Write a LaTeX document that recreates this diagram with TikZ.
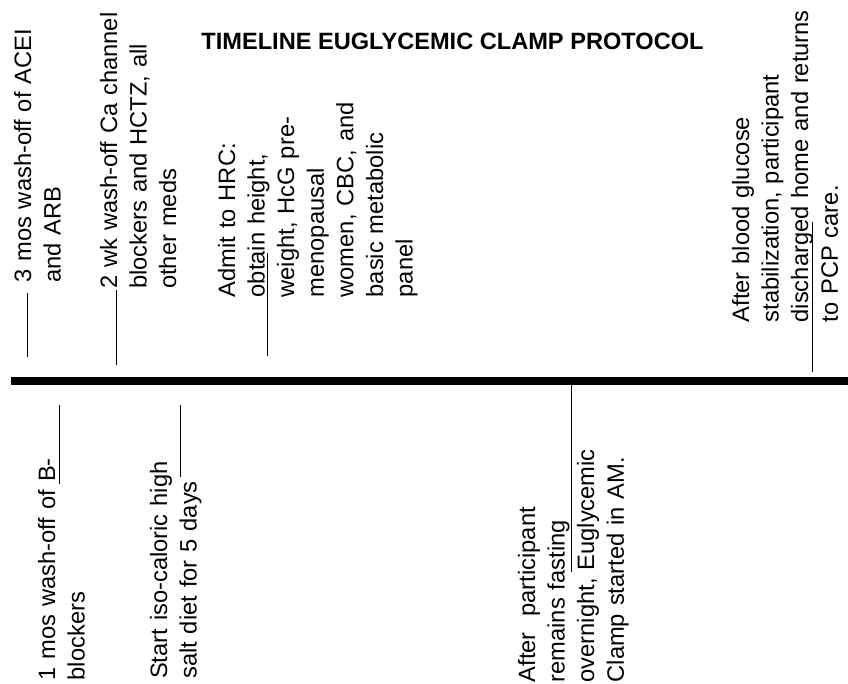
\documentclass[tikz,border=0pt]{standalone}
\usepackage{fontspec}
\setmainfont{Liberation Sans}
\begin{document}
\begin{tikzpicture}[x=1pt,y=-1pt,
  lbl/.style={rotate=90, anchor=base west, inner sep=0pt, text width=420pt, align=left,
              font=\fontsize{23.7}{29.6}\selectfont},
  tick/.style={line width=1pt},
  bar/.style={line width=8pt}]
\useasboundingbox (0,0) rectangle (848,683);
% title
\node[font=\fontsize{23.6}{29}\selectfont\bfseries, anchor=base, inner sep=0pt] (title)
  at (452.5,49) {TIMELINE EUGLYCEMIC CLAMP PROTOCOL};
% time axis
\coordinate (barL) at (11,381);
\coordinate (barR) at (848,381);
\draw[bar] (barL) -- (barR);
% labels above the axis
\node[lbl] (A) at (31,283) {3 mos wash-off of ACEI\\and ARB};
\node[lbl] (B) at (117,289) {2 wk wash-off Ca channel\\blockers and HCTZ, all\\other meds};
\node[lbl] (C) at (235,297.5) {Admit to HRC:\\obtain height,\\weight, HcG pre-\\menopausal\\women, CBC, and\\basic metabolic\\panel};
\node[lbl] (D) at (749,322.5) {After blood glucose\\stabilization, participant\\discharged home and returns\\to PCP care.};
% labels below the axis
\node[lbl] (E) at (55,680.5) {1 mos wash-off of B-\\blockers};
\node[lbl] (F) at (167,679) {Start iso-caloric high\\salt diet for 5 days};
\node[lbl] (G) at (535,682.5) {After\ \ participant\\remains fasting\\overnight, Euglycemic\\Clamp started in AM.};
% ticks
\coordinate (tA1) at (27,357); \coordinate (tA2) at (27,293);
\coordinate (tB1) at (116,365); \coordinate (tB2) at (116,290);
\coordinate (tC1) at (267,356); \coordinate (tC2) at (267,253);
\coordinate (tD1) at (812,372); \coordinate (tD2) at (812,222);
\coordinate (tE1) at (59,405); \coordinate (tE2) at (59,484);
\coordinate (tF1) at (180,405); \coordinate (tF2) at (180,477);
\coordinate (tG1) at (571,385); \coordinate (tG2) at (571,572);
\draw[tick] (tA1) -- (tA2);
\draw[tick] (tB1) -- (tB2);
\draw[tick] (tC1) -- (tC2);
\draw[tick] (tD1) -- (tD2);
\draw[tick] (tE1) -- (tE2);
\draw[tick] (tF1) -- (tF2);
\draw[tick] (tG1) -- (tG2);
\end{tikzpicture}
\end{document}
